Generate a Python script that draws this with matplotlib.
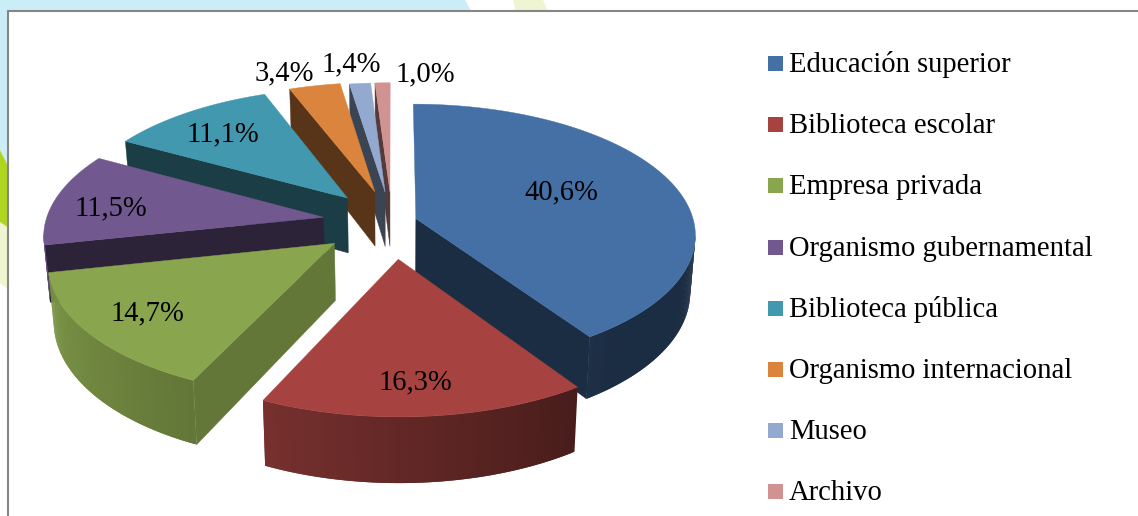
#!/usr/bin/env python
import numpy as np
import matplotlib
matplotlib.use("Agg")
import matplotlib.pyplot as plt
from matplotlib.colors import to_rgb

labels = ["Educación superior", "Biblioteca escolar", "Empresa privada",
          "Organismo gubernamental", "Biblioteca pública",
          "Organismo internacional", "Museo", "Archivo"]
values = [40.6, 16.3, 14.7, 11.5, 11.1, 3.4, 1.4, 1.0]
colors = ["#4470A6", "#A64340", "#89A54E", "#71588F",
          "#4198AF", "#DB843D", "#93A9CF", "#D19392"]
explode = [0.09, 0.28, 0.26, 0.25, 0.25, 0.25, 0.24, 0.24]

# where the percent labels sit, in pixels
label_x = [561, 415, 147, 111, 223, 284, 351, 425]
label_y = [192, 382, 313, 208, 134, 73, 64, 74]

# pie geometry, fake 3d with a bit of perspective
cx, cy = 392, 222
rx, ry = 278, 129
persp = 0.12
thick = 56
shrink = 0.017


def project(u, v, z=0.0):
    w = 1 + persp * v
    x = cx + rx * u / w * (1 - shrink * z)
    y = cy - ry * v / w + thick * z / w
    return x, y


def shade(col, f):
    return tuple(c * f for c in to_rgb(col))


def arc_shade(deg):
    return np.interp(deg, [140, 205, 260], [0.40, 0.72, 0.92])


fig = plt.figure(figsize=(11.38, 5.16), dpi=100, facecolor="white")
ax = fig.add_axes([0, 0, 1, 1])
ax.set_xlim(0, 1138)
ax.set_ylim(516, 0)
ax.axis("off")

# page background showing around the chart
ax.fill([0, 465, 472, 0], [0, 0, 12, 12], color="#CBEDF8", lw=0, zorder=0)
ax.fill([0, 9, 9, 0], [0, 0, 170, 150], color="#CBEDF8", lw=0, zorder=0)
ax.fill([513, 543, 548, 516], [0, 0, 12, 12], color="#EEF5D0", lw=0, zorder=0)
ax.fill([0, 9, 9, 0], [150, 168, 290, 283], color="#EEF5D0", lw=0, zorder=0)
ax.fill([0, 9, 9, 0], [150, 168, 228, 222], color="#AFD61E", lw=0, zorder=0)

# chart frame, runs off the right and bottom
ax.fill([8, 1160, 1160, 8], [11, 11, 540, 540], facecolor="white",
        edgecolor="#868686", linewidth=1.5, zorder=1)

edges = np.concatenate([[0], np.cumsum(values)]) / sum(values) * 360
order = [7, 6, 5, 4, 3, 2, 0, 1]

for i in order:
    a0, a1 = edges[i], edges[i + 1]
    mid = np.radians((a0 + a1) / 2)
    ou = explode[i] * np.sin(mid)
    ov = explode[i] * np.cos(mid)
    th = np.radians(np.linspace(a0, a1, max(int(a1 - a0) * 2, 4)))
    us = ou + np.sin(th)
    vs = ov + np.cos(th)
    wall = arc_shade(205) if i == 2 else 0.40

    # straight walls, only the ones turned to the viewer
    for a, seen in ((a0, a0 > 180), (a1, a1 < 180)):
        if not seen:
            continue
        t = np.radians(a)
        u1, v1 = ou + np.sin(t), ov + np.cos(t)
        p = [project(ou, ov), project(u1, v1), project(u1, v1, 1), project(ou, ov, 1)]
        c = shade(colors[i], wall)
        ax.fill(*zip(*p), facecolor=c, edgecolor=c, linewidth=0.3, zorder=2)

    # curved wall, quads overlap by a step so no seams show
    front = np.where(np.cos(th) < -persp)[0]
    for j in front[:-1]:
        k = min(j + 2, front[-1])
        idx = np.arange(j, k + 1)
        p = [project(us[n], vs[n]) for n in idx] + [project(us[n], vs[n], 1) for n in idx[::-1]]
        c = shade(colors[i], arc_shade(np.degrees(th[j])))
        ax.fill(*zip(*p), facecolor=c, edgecolor="none", zorder=2)

    # top face
    px, py = project(np.r_[ou, us], np.r_[ov, vs])
    ax.fill(px, py, facecolor=colors[i], edgecolor=colors[i], linewidth=0.3, zorder=2)

font = "Liberation Serif"
for v, x, y in zip(values, label_x, label_y):
    ax.text(x, y, f"{v:.1f}%".replace(".", ","), ha="center", va="center",
            fontsize=20.6, family=font, color="black", zorder=3)

# legend
for k, (lab, col) in enumerate(zip(labels, colors)):
    y = 63.5 + k * 61.2
    ax.fill([768, 783, 783, 768], [y - 7.5, y - 7.5, y + 7.5, y + 7.5], facecolor=col, lw=0, zorder=3)
    ax.text(789, y + 1.5, lab, ha="left", va="center", fontsize=20.6, family=font, color="black", zorder=3)

fig.savefig("out.png", dpi=100, facecolor=fig.get_facecolor())
